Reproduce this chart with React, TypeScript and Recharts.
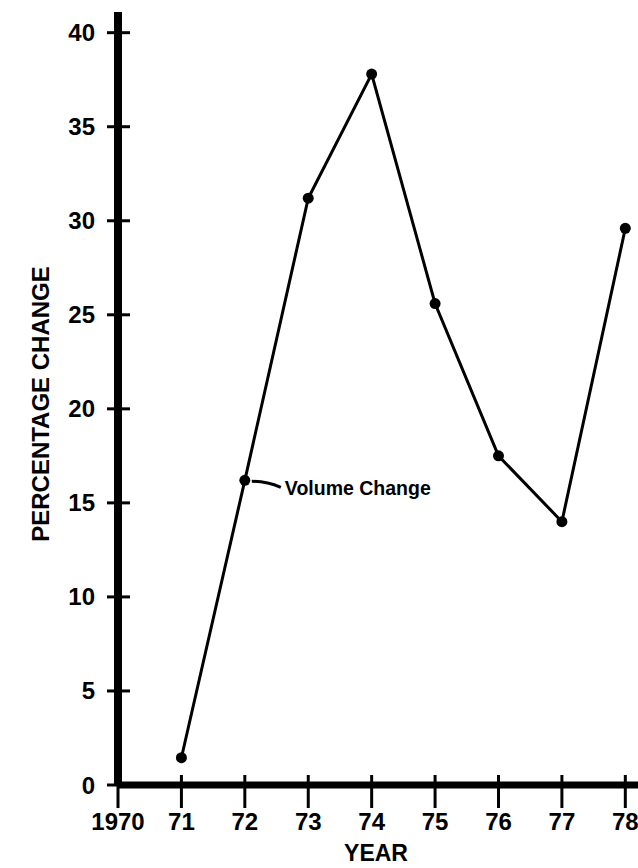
import React from 'react';
import { LineChart, Line, XAxis, YAxis, LabelList, Label } from 'recharts';

// Tick labels along the year axis (position 0 = 1970)
const yearLabels: string[] = ['1970', '71', '72', '73', '74', '75', '76', '77', '78'];
// Positions of the data points on the year axis
const yearPositions: number[] = [1, 2, 3, 4, 5, 6, 7, 8];
// Percentage change values
const volumeChange: number[] = [1.45, 16.2, 31.2, 37.8, 25.6, 17.5, 14.0, 29.6];
// Y-axis ticks
const yTicks: number[] = [0, 5, 10, 15, 20, 25, 30, 35, 40];
const xTicks: number[] = [0, 1, 2, 3, 4, 5, 6, 7, 8];
const seriesName = 'Volume Change';
const annotationIndex = 1;

const data = yearPositions.map((p, i) => ({ pos: p, change: volumeChange[i] }));

const FONT = '"Liberation Sans", Arial, Helvetica, sans-serif';

const XTick = (props: any) => {
  const { x, y, payload } = props;
  const label = yearLabels[payload.value] ?? '';
  return (
    <g>
      <line x1={x} x2={x} y1={y - 10} y2={y + 23} stroke="#000" strokeWidth={3} />
      <text
        x={x}
        y={y + 45}
        textAnchor="middle"
        fontFamily={FONT}
        fontWeight="bold"
        fontSize={24}
        fill="#000"
      >
        {label}
      </text>
    </g>
  );
};

const YTick = (props: any) => {
  const { x, y, payload } = props;
  return (
    <g>
      <line x1={x - 11} x2={x + 12} y1={y} y2={y} stroke="#000" strokeWidth={3} />
      <text
        x={x - 23}
        y={y + 8.5}
        textAnchor="end"
        fontFamily={FONT}
        fontWeight="bold"
        fontSize={24}
        fill="#000"
      >
        {payload.value}
      </text>
    </g>
  );
};

const renderAnnotation = (props: any) => {
  const { index } = props;
  if (index !== annotationIndex) return null;
  const px = props.x ?? props.viewBox?.x;
  const py = props.y ?? props.viewBox?.y;
  if (px == null || py == null) return null;
  return (
    <g>
      <path
        d={`M ${px + 7} ${py + 1} Q ${px + 22} ${py + 1} ${px + 36} ${py + 7}`}
        stroke="#000"
        strokeWidth={3}
        fill="none"
      />
      <text
        x={px + 40}
        y={py + 15}
        fontFamily={FONT}
        fontWeight="bold"
        fontSize={19.5}
        fill="#000"
      >
        {seriesName}
      </text>
    </g>
  );
};

export default function App() {
  return (
    <div style={{ position: 'absolute', left: 0, top: 0, width: 638, height: 868, background: '#fff' }}>
      <LineChart
        width={638}
        height={868}
        data={data}
        margin={{ top: 12, right: 0, bottom: 0, left: 0 }}
      >
        <XAxis
          dataKey="pos"
          type="number"
          domain={[0, 8.2]}
          ticks={xTicks}
          allowDataOverflow
          height={83}
          tickSize={0}
          tickMargin={0}
          tickLine={false}
          axisLine={{ stroke: '#000', strokeWidth: 7 }}
          tick={<XTick />}
          interval={0}
        >
          <Label
            content={() => (
              <text
                x={376}
                y={861}
                textAnchor="middle"
                fontFamily={FONT}
                fontWeight="bold"
                fontSize={23}
                fill="#000"
              >
                YEAR
              </text>
            )}
          />
        </XAxis>
        <YAxis
          type="number"
          domain={[0, 41.1]}
          ticks={yTicks}
          allowDataOverflow
          width={118}
          tickSize={0}
          tickMargin={0}
          tickLine={false}
          axisLine={{ stroke: '#000', strokeWidth: 8 }}
          tick={<YTick />}
          interval={0}
        >
          <Label
            content={() => (
              <text
                x={49}
                y={404}
                transform="rotate(-90 49 404)"
                textAnchor="middle"
                fontFamily={FONT}
                fontWeight="bold"
                fontSize={24}
                fill="#000"
              >
                PERCENTAGE CHANGE
              </text>
            )}
          />
        </YAxis>
        <Line
          type="linear"
          dataKey="change"
          stroke="#000"
          strokeWidth={3}
          dot={{ r: 5.5, fill: '#000', stroke: '#000', strokeWidth: 0 }}
          isAnimationActive={false}
        >
          <LabelList dataKey="change" content={renderAnnotation} />
        </Line>
      </LineChart>
    </div>
  );
}
